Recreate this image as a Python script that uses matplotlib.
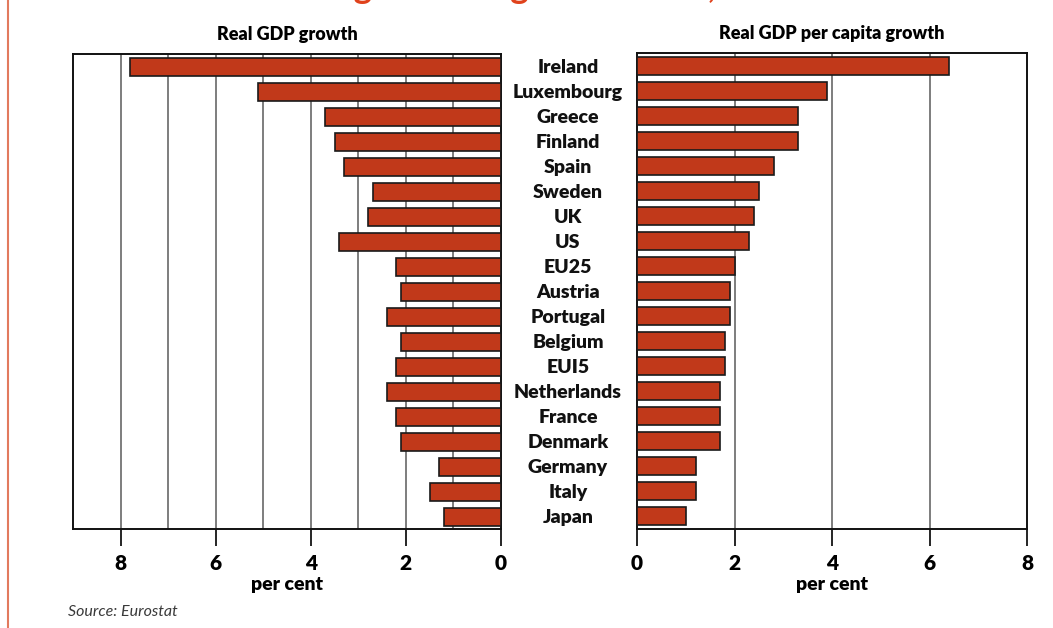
import matplotlib.pyplot as plt
from matplotlib.transforms import blended_transform_factory

plt.rcParams['font.family'] = ['Lato', 'DejaVu Sans']

# growth rates, per cent
countries = ["Ireland", "Luxembourg", "Greece", "Finland", "Spain", "Sweden",
             "UK", "US", "EU25", "Austria", "Portugal", "Belgium", "EUI5",
             "Netherlands", "France", "Denmark", "Germany", "Italy", "Japan"]
gdp_growth = [7.8, 5.1, 3.7, 3.5, 3.3, 2.7, 2.8, 3.4, 2.2, 2.1, 2.4, 2.1,
              2.2, 2.4, 2.2, 2.1, 1.3, 1.5, 1.2]
gdp_pc_growth = [6.4, 3.9, 3.3, 3.3, 2.8, 2.5, 2.4, 2.3, 2.0, 1.9, 1.9, 1.8,
                 1.8, 1.7, 1.7, 1.7, 1.2, 1.2, 1.0]
left_ticks = [8, 6, 4, 2, 0]
right_ticks = [0, 2, 4, 6, 8]

bar_col = "#c1391a"
W, H = 1053, 628

fig = plt.figure(figsize=(W / 100, H / 100), dpi=100)
axL = fig.add_axes([73 / W, 1 - 529 / H, 428 / W, 475 / H])
axR = fig.add_axes([637 / W, 1 - 529 / H, 390 / W, 476 / H])

ypos = list(range(len(countries)))

# left panel: total GDP growth, drawn right to left
for g in range(1, 9):
    axL.axvline(g, color="#5a5a5a", lw=1.1, zorder=1)
axL.barh(ypos, gdp_growth, height=0.72, color=bar_col, edgecolor="#1a1a1a",
         lw=1.2, zorder=3)
axL.set_xlim(9, 0)
axL.set_xticks(left_ticks)

# right panel: per capita growth
for g in [2, 4, 6]:
    axR.axvline(g, color="#5a5a5a", lw=1.1, zorder=1)
axR.barh(ypos, gdp_pc_growth, height=0.72, color=bar_col, edgecolor="#1a1a1a",
         lw=1.2, zorder=3)
axR.set_xlim(0, 8)
axR.set_xticks(right_ticks)

for ax in (axL, axR):
    ax.set_ylim(len(countries) - 0.5, -0.5)
    ax.set_yticks([])
    for s in ax.spines.values():
        s.set_linewidth(1.4)
        s.set_color("#111111")
    ax.tick_params(axis="x", direction="out", length=12, width=1.2,
                   pad=6, labelsize=15)
    for lab in ax.get_xticklabels():
        lab.set_fontweight("heavy")
    ax.set_xlabel("per cent", fontsize=14, fontweight="heavy", labelpad=2)

axL.set_title("Real GDP growth", fontsize=13, fontweight="heavy", pad=10)
axR.set_title("Real GDP per capita growth", fontsize=13, fontweight="heavy", pad=10)

# country names between the panels
tr = blended_transform_factory(fig.transFigure, axR.transData)
for i, c in enumerate(countries):
    axR.text(568 / W, i + 0.06, c, transform=tr, ha="center", va="center",
             fontsize=14, fontweight="heavy", color="#111111")

fig.text(68 / W, 1 - 612 / H, "Source: Eurostat", fontsize=11.5,
         fontstyle="italic", color="#3a3a3a", va="center")

# heading running off the top of the page
fig.text(262 / W, 1 + 2 / H, "Average annual growth rates, 1995-2004",
         fontsize=25, fontweight="bold", color="#e0421c", va="baseline")

# page margin rule
fig.add_artist(plt.Line2D([8 / W, 8 / W], [0, 1], transform=fig.transFigure,
                          color="#e27a5e", lw=1.5))

fig.savefig("out.png", dpi=100)
